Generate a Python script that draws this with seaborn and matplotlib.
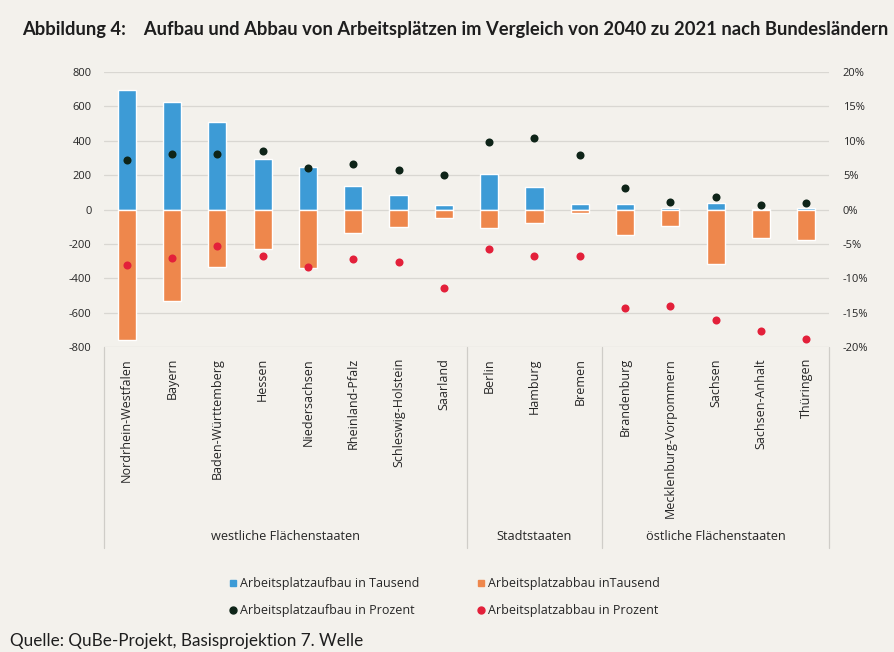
import matplotlib
matplotlib.use("Agg")
import matplotlib.pyplot as plt
import seaborn as sns
import pandas as pd
import numpy as np
from matplotlib.lines import Line2D

# ---------------- data ----------------
states = ["Nordrhein-Westfalen", "Bayern", "Baden-Württemberg", "Hessen",
          "Niedersachsen", "Rheinland-Pfalz", "Schleswig-Holstein", "Saarland",
          "Berlin", "Hamburg", "Bremen",
          "Brandenburg", "Mecklenburg-Vorpommern", "Sachsen", "Sachsen-Anhalt", "Thüringen"]
aufbau_tsd = [693, 625, 508, 295, 246, 134, 85, 25,
              204, 130, 30,
              30, 8, 37, 5, 10]
abbau_tsd = [-759, -530, -332, -231, -340, -138, -103, -52,
             -108, -80, -20,
             -150, -95, -315, -168, -178]
aufbau_pct = [7.2, 8.1, 8.1, 8.5, 6.1, 6.6, 5.8, 5.0,
              9.8, 10.4, 8.0,
              3.1, 1.1, 1.8, 0.7, 0.9]
abbau_pct = [-8.1, -7.0, -5.3, -6.7, -8.3, -7.2, -7.7, -11.4,
             -5.7, -6.7, -6.7,
             -14.3, -14.0, -16.0, -17.7, -18.9]
groups = ["westliche Flächenstaaten", "Stadtstaaten", "östliche Flächenstaaten"]
group_sizes = [8, 3, 5]
left_ticks = [-800, -600, -400, -200, 0, 200, 400, 600, 800]
right_ticks = [-20, -15, -10, -5, 0, 5, 10, 15, 20]

title = "Abbildung 4:    Aufbau und Abbau von Arbeitsplätzen im Vergleich von 2040 zu 2021 nach Bundesländern"
source = "Quelle: QuBe-Projekt, Basisprojektion 7. Welle"
leg_labels = ["Arbeitsplatzaufbau in Tausend", "Arbeitsplatzaufbau in Prozent",
              "Arbeitsplatzabbau inTausend", "Arbeitsplatzabbau in Prozent"]

df = pd.DataFrame({"state": states, "auf": aufbau_tsd, "ab": abbau_tsd,
                   "auf_p": aufbau_pct, "ab_p": abbau_pct})

# ---------------- style ----------------
BG = "#f3f1ec"
BLUE = "#3d9bd6"
ORANGE = "#ee874c"
DARK = "#0e2418"
RED = "#e3203a"
TXT = "#262626"
GRID = "#d9d7d2"

sns.set_theme(style="white")
plt.rcParams["font.family"] = ["Open Sans", "DejaVu Sans"]

fig = plt.figure(figsize=(8.94, 6.52), dpi=100, facecolor=BG)
ax = fig.add_axes([104/894, 1-347/652, (829-104)/894, (347-72)/652])
ax.set_facecolor(BG)

sns.barplot(data=df, x="state", y="auf", color=BLUE, width=0.40,
            saturation=1, ax=ax, zorder=2)
sns.barplot(data=df, x="state", y="ab", color=ORANGE, width=0.40,
            saturation=1, ax=ax, zorder=2)

ax.set_ylim(-800, 800)
ax.set_xlim(-0.5, len(states) - 0.5)
ax.set_yticks(left_ticks)
ax.set_yticklabels([str(t) for t in left_ticks])
ax.yaxis.grid(True, color=GRID, linewidth=0.9, zorder=0)
ax.set_axisbelow(True)
for s in ax.spines.values():
    s.set_visible(False)
ax.tick_params(axis="y", length=0, pad=9, labelsize=8, labelcolor=TXT)
ax.tick_params(axis="x", length=0, pad=8, labelsize=9, labelcolor=TXT)
ax.set_xticks(range(len(states)))
ax.set_xticklabels(states, rotation=90, va="top", ha="center")
ax.set_xlabel("")
ax.set_ylabel("")

ax2 = ax.twinx()
sns.stripplot(x=states, y=aufbau_pct, jitter=False, color=DARK, size=5.8,
              ax=ax2, zorder=3, linewidth=0)
sns.stripplot(x=states, y=abbau_pct, jitter=False, color=RED, size=5.8,
              ax=ax2, zorder=3, linewidth=0)
ax2.set_ylim(-20, 20)
ax2.set_xlim(-0.5, len(states) - 0.5)
ax2.set_yticks(right_ticks)
ax2.set_yticklabels([f"{t}%" for t in right_ticks])
ax2.tick_params(axis="y", length=0, pad=10, labelsize=8, labelcolor=TXT)
ax2.set_ylabel("")
for s in ax2.spines.values():
    s.set_visible(False)

# group box below axis
trans = ax.get_xaxis_transform()
box_bottom = -(548-347)/(347-72)
bounds = np.concatenate([[0], np.cumsum(group_sizes)]) - 0.5
for b in bounds:
    ax.plot([b, b], [0, box_bottom], transform=trans, color="#cfcdc8",
            linewidth=0.9, clip_on=False)
label_y = -(537-347)/(347-72)
for i, g in enumerate(groups):
    cx = (bounds[i] + bounds[i+1]) / 2
    ax.text(cx, label_y, g, transform=trans, ha="center", va="center",
            fontsize=9.2, color=TXT)

# legend
handles = [Line2D([], [], marker="s", color=BLUE, linestyle="", markersize=5),
           Line2D([], [], marker="o", color=DARK, linestyle="", markersize=5),
           Line2D([], [], marker="s", color=ORANGE, linestyle="", markersize=5),
           Line2D([], [], marker="o", color=RED, linestyle="", markersize=5)]
fig.legend(handles, leg_labels, ncol=2, loc="upper left",
           bbox_to_anchor=(224/894, 1-572/652), frameon=False,
           fontsize=9, handlelength=0.6, handletextpad=0.3,
           columnspacing=4.6, labelspacing=1.15, labelcolor=TXT, borderaxespad=0)

fig.text(22/894, 1-30/652, title, fontsize=13.2, fontweight="bold",
         color="#1e1e1e", ha="left", va="center", family=["Lato", "DejaVu Sans"])
fig.text(10/894, 1-641/652, source, fontsize=12.3, color="#1e1e1e",
         ha="left", va="center", family=["Lato", "DejaVu Sans"])

fig.savefig("out.png", dpi=100, facecolor=BG)
